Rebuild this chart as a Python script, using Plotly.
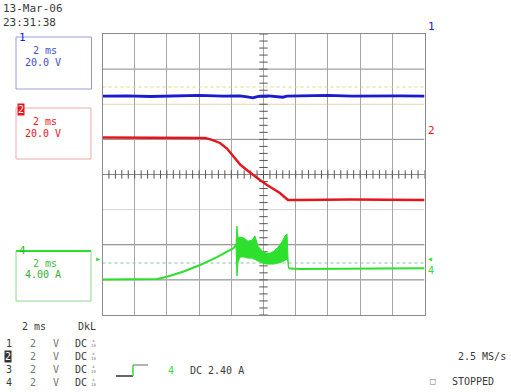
import plotly.graph_objects as go

# ---- acquisition: time in ms (trigger at 0), amplitude in screen divisions ----
ch1_t = [-6, -4.5, -3, -1.5, 0, 1.5, 2.5, 2.9, 3.15, 3.35, 3.55, 3.8, 4.3, 4.7,
         5.0, 5.2, 5.45, 6.5, 8, 9.5, 11, 12.5, 14]
ch1_div = [2.23, 2.24, 2.22, 2.24, 2.25, 2.23, 2.24, 2.22, 2.19, 2.18, 2.21, 2.23,
           2.24, 2.22, 2.19, 2.20, 2.23, 2.24, 2.25, 2.23, 2.24, 2.24, 2.23]

ch2_t = [-6, -0.57, 0.37, 0.80, 1.30, 1.73, 2.11, 2.54, 2.98, 3.35, 3.78, 4.22,
         4.65, 5.02, 5.34, 5.52, 6.27, 9.37, 14]
ch2_div = [1.054, 1.054, 1.040, 0.983, 0.897, 0.740, 0.530, 0.290, 0.120, -0.014,
           -0.157, -0.299, -0.427, -0.527, -0.655, -0.726, -0.726, -0.712, -0.726]

ch4_rise_t = [-6, -4.29, -2.61, -1.99, -1.0, 0.06, 1.11, 2.11, 2.29]
ch4_rise_div = [-2.986, -2.983, -2.977, -2.912, -2.769, -2.578, -2.350, -2.103, -2.023]

burst_t = [2.29, 2.35, 2.42, 2.54, 2.79, 3.04, 3.29, 3.47, 3.66, 3.91, 4.16, 4.41,
           4.66, 4.90, 5.15, 5.34, 5.46, 5.52, 5.55]
burst_hi = [-2.02, -1.47, -1.81, -1.78, -1.81, -1.90, -1.87, -1.75, -2.04, -2.18,
            -2.24, -2.24, -2.18, -2.07, -1.92, -1.75, -1.69, -2.15, -2.66]
burst_lo = [-2.02, -2.89, -2.49, -2.35, -2.35, -2.38, -2.38, -2.41, -2.46, -2.52,
            -2.55, -2.55, -2.55, -2.52, -2.49, -2.44, -2.41, -2.49, -2.66]

ch4_tail_t = [5.55, 5.65, 6.27, 9.37, 14]
ch4_tail_div = [-2.66, -2.678, -2.687, -2.678, -2.672]

ref_yellow_div = 2.49
ref_green_div = -2.52

# ---- screen geometry ----
W, H = 511, 392
GX0, GX1, GY0, GY1 = 102.5, 424.5, 34, 315
T0, T1 = -6, 14
T_CENTER = 4


def px(x):
    return x / W


def py(y):
    return 1 - y / H


BLUE = "#1a1ad0"
RED = "#e8141c"
GREEN = "#2ee02e"
TXT = "#3a3a3a"
MONO = "DejaVu Sans Mono"

fig = go.Figure()

# center-line graticule ticks (5 per division)
fig.add_trace(go.Scatter(
    x=[T0 + k * 0.4 for k in range(51)], y=[0] * 51, mode="markers",
    marker=dict(symbol="line-ns", size=6, line=dict(width=1, color="#555")),
    hoverinfo="skip", showlegend=False))
fig.add_trace(go.Scatter(
    x=[T_CENTER] * 41, y=[-4 + k * 0.2 for k in range(41)], mode="markers",
    marker=dict(symbol="line-ew", size=6, line=dict(width=1, color="#555")),
    hoverinfo="skip", showlegend=False))

# reference levels
fig.add_trace(go.Scatter(x=[T0, T1], y=[ref_yellow_div] * 2, mode="lines",
                         line=dict(color="#ddd48a", width=1, dash="dot"),
                         hoverinfo="skip", showlegend=False))
fig.add_trace(go.Scatter(x=[T0, T1], y=[ref_green_div] * 2, mode="lines",
                         line=dict(color="#8fc0a8", width=1, dash="dot"),
                         hoverinfo="skip", showlegend=False))

# channel 1
fig.add_trace(go.Scatter(x=ch1_t, y=ch1_div, mode="lines",
                         line=dict(color=BLUE, width=2.8), showlegend=False))
# channel 2
fig.add_trace(go.Scatter(x=ch2_t, y=ch2_div, mode="lines",
                         line=dict(color=RED, width=2.4), showlegend=False))
# channel 4: ramp, oscillating burst, settled level
fig.add_trace(go.Scatter(x=ch4_rise_t + [None] + ch4_tail_t,
                         y=ch4_rise_div + [None] + ch4_tail_div, mode="lines",
                         line=dict(color=GREEN, width=2), showlegend=False))
fig.add_trace(go.Scatter(x=burst_t + burst_t[::-1], y=burst_hi + burst_lo[::-1],
                         mode="lines", fill="toself", fillcolor=GREEN,
                         line=dict(color=GREEN, width=1), showlegend=False))

# trigger time marker below the graticule
fig.add_trace(go.Scatter(x=[0], y=[-4.12], mode="markers", cliponaxis=False,
                         marker=dict(symbol="triangle-up-open", size=6,
                                     color=GREEN, line=dict(width=1)),
                         showlegend=False))

fig.update_xaxes(domain=[px(GX0), px(GX1)], range=[T0, T1], tick0=T0, dtick=2,
                 showgrid=True, gridcolor="#a6a6a6", gridwidth=1, zeroline=False,
                 showticklabels=False, ticks="", showline=True, mirror=True,
                 linecolor="#8a8a8a", linewidth=1)
fig.update_yaxes(domain=[py(GY1), py(GY0)], range=[-4, 4], showgrid=False,
                 zeroline=False, showticklabels=False, ticks="", showline=True,
                 mirror=True, linecolor="#8a8a8a", linewidth=1)

shapes = []
grid_colors = {3: "#8a8a8a", 2: "#dcd8b8", 1: "#8a8a8a", 0: "#8a8a8a",
               -1: "#d4d4d4", -2: "#7a7a7a", -3: "#7a7a7a"}
for d, c in grid_colors.items():
    shapes.append(dict(type="line", xref="x", yref="y", x0=T0, x1=T1, y0=d, y1=d,
                       line=dict(color=c, width=1), layer="below"))


def box(x0, y0, x1, y1, color, width=1):
    shapes.append(dict(type="rect", xref="paper", yref="paper", x0=px(x0),
                       x1=px(x1), y0=py(y1), y1=py(y0),
                       line=dict(color=color, width=width)))


box(16, 37, 91.5, 89, "#9a9ada")
box(16, 108, 91, 159, "#f2a8a8")
box(16, 251, 91, 301, "#8ad88a")
shapes.append(dict(type="line", xref="paper", yref="paper", x0=px(16), x1=px(91),
                   y0=py(251), y1=py(251), line=dict(color=GREEN, width=2)))

# trigger-slope glyph
shapes.append(dict(type="line", xref="paper", yref="paper", x0=px(116), x1=px(133),
                   y0=py(376), y1=py(376), line=dict(color="#333", width=1.5)))
shapes.append(dict(type="line", xref="paper", yref="paper", x0=px(133), x1=px(133),
                   y0=py(376), y1=py(365), line=dict(color=GREEN, width=1.5)))
shapes.append(dict(type="line", xref="paper", yref="paper", x0=px(133), x1=px(148),
                   y0=py(365), y1=py(365), line=dict(color="#999", width=1.5)))

annotations = []


def label(x, y, text, color=TXT, size=10, anchor="left", **kw):
    annotations.append(dict(xref="paper", yref="paper", x=px(x), y=py(y),
                            text=text, showarrow=False, xanchor=anchor,
                            yanchor="middle", font=dict(family=MONO, size=size,
                                                        color=color), **kw))


label(1, 8.5, "13-Mar-06", size=11)
label(1, 22.5, "23:31:38", size=11)

# channel setting boxes
label(17, 38, "1", BLUE, 11)
label(45, 51, "2 ms", "#4050c8", 10, "center")
label(43, 62, "20.0 V", "#4050c8", 10, "center")
label(17, 109, "2", "white", 10, bgcolor=RED, borderpad=0)
label(45, 121, "2 ms", RED, 10, "center")
label(43, 133, "20.0 V", RED, 10, "center")
label(17, 251, "4", "#22c022", 11)
label(45, 263, "2 ms", "#40c040", 10, "center")
label(43, 274, "4.00 A", "#30b030", 10, "center")

# level markers at the graticule edges
label(426, 26, "1", BLUE, 11)
label(426, 131, "2", RED, 11)
label(425, 258, "◂", GREEN, 10)
label(426, 270, "4", GREEN, 10)
label(93, 258, "▸", GREEN, 10)

# bottom status block
label(20, 326, "2 ms", TXT, 10)
label(76, 326, "DkL", TXT, 10)
rows_y = [343, 356, 369, 382]
for i, yy in enumerate(rows_y):
    if i == 1:
        label(4, yy, "2", "white", 10, bgcolor="#333", borderpad=0)
    else:
        label(4, yy, str(i + 1), TXT, 10)
    label(28, yy, "2", "#777", 10)
    label(51, yy, "V", "#777", 10)
    label(73, yy, "DC", TXT, 10)
    label(89, yy, "x<br>10", "#777", 4)

label(166, 370, "4", GREEN, 10)
label(188, 370, "DC 2.40 A", TXT, 10)
label(508, 356, "2.5 MS/s", TXT, 10, "right")
label(428, 381, "□", "#777", 9)
label(450, 381, "STOPPED", TXT, 10)

fig.update_layout(width=W, height=H, margin=dict(l=0, r=0, t=0, b=0),
                  paper_bgcolor="white", plot_bgcolor="white",
                  shapes=shapes, annotations=annotations, showlegend=False)

fig.write_html("out.html")
